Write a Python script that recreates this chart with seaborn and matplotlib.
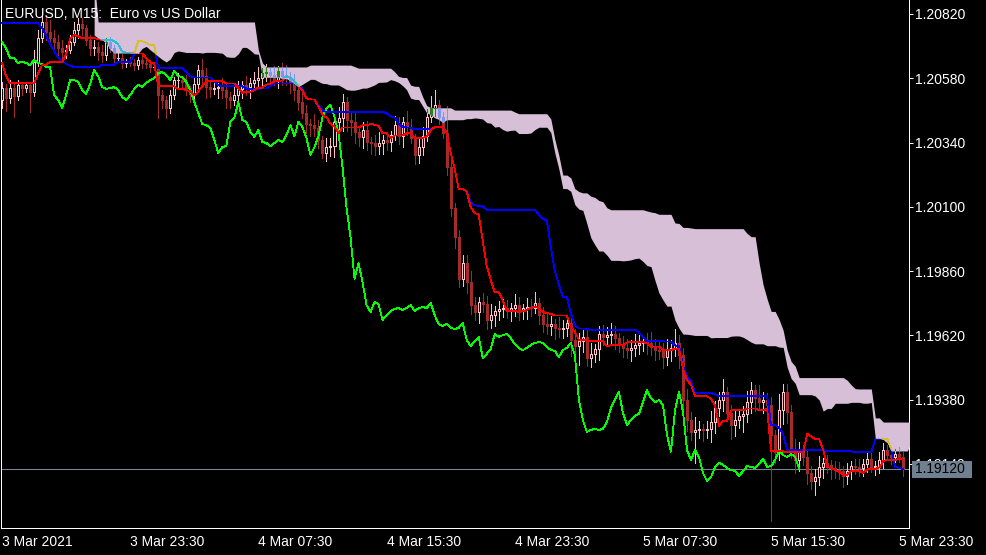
import numpy as np
import pandas as pd
import matplotlib
matplotlib.use("Agg")
import matplotlib.pyplot as plt
import matplotlib.colors as mcolors
import seaborn as sns
from matplotlib.path import Path
from matplotlib.patches import Rectangle
from matplotlib.transforms import blended_transform_factory

# EURUSD M15, first bar 3 Mar 2021 15:30
first_open = 1.20499
close = [
    1.20544, 1.20506, 1.20544, 1.20514, 1.20555, 1.20544, 1.20555, 1.20529, 1.20641, 1.20730,
    1.20790, 1.20753, 1.20730, 1.20715, 1.20693, 1.20678, 1.20685, 1.20715, 1.20760, 1.20782,
    1.20767, 1.20723, 1.20693, 1.20697, 1.20678, 1.20667,
    1.20715, 1.20693, 1.20655, 1.20655, 1.20637, 1.20641, 1.20637, 1.20629, 1.20648, 1.20637,
    1.20633, 1.20622, 1.20622, 1.20517, 1.20499, 1.20469, 1.20517, 1.20573, 1.20573, 1.20566,
    1.20536, 1.20521, 1.20558, 1.20611, 1.20588, 1.20547, 1.20540, 1.20543, 1.20547, 1.20536,
    1.20510, 1.20499, 1.20517, 1.20540, 1.20555, 1.20547, 1.20562, 1.20573, 1.20581, 1.20599,
    1.20603, 1.20592, 1.20573, 1.20607, 1.20588, 1.20585, 1.20566, 1.20536, 1.20491, 1.20450,
    1.20409, 1.20405, 1.20394, 1.20349, 1.20301, 1.20323, 1.20327, 1.20417, 1.20432, 1.20491,
    1.20424, 1.20417, 1.20379, 1.20361, 1.20387, 1.20342, 1.20338, 1.20327, 1.20338, 1.20349,
    1.20342, 1.20368, 1.20405, 1.20364, 1.20417, 1.20398, 1.20357, 1.20293, 1.20323, 1.20364,
    1.20435, 1.20469, 1.20480, 1.20435, 1.20376, 1.20249, 1.20096, 1.19987, 1.19830, 1.19890,
    1.19819, 1.19733, 1.19707, 1.19745, 1.19737, 1.19677, 1.19696, 1.19711, 1.19719, 1.19722,
    1.19715, 1.19722, 1.19733, 1.19711, 1.19722, 1.19726, 1.19722, 1.19741, 1.19696, 1.19663,
    1.19655, 1.19663, 1.19648, 1.19644, 1.19648, 1.19666, 1.19603, 1.19580, 1.19599, 1.19614,
    1.19536, 1.19551, 1.19569, 1.19625, 1.19614, 1.19621, 1.19625, 1.19610, 1.19588, 1.19573,
    1.19565, 1.19573, 1.19584, 1.19592, 1.19595, 1.19592, 1.19577, 1.19565, 1.19562, 1.19539,
    1.19565, 1.19573, 1.19592, 1.19547, 1.19379, 1.19304, 1.19259, 1.19267, 1.19271, 1.19267,
    1.19271, 1.19297, 1.19349, 1.19379, 1.19409, 1.19330, 1.19285, 1.19304, 1.19319, 1.19327,
    1.19371, 1.19416, 1.19386, 1.19371, 1.19379, 1.19360, 1.19248, 1.19185, 1.19341, 1.19409,
    1.19334, 1.19192, 1.19155, 1.19192, 1.19166, 1.19106, 1.19076, 1.19091, 1.19129, 1.19144,
    1.19136, 1.19125, 1.19117, 1.19114, 1.19095, 1.19114, 1.19132, 1.19129, 1.19125, 1.19140,
    1.19159, 1.19129, 1.19132, 1.19155, 1.19192, 1.19173, 1.19166, 1.19177, 1.19166, 1.19120,
]
# wick lengths beyond the body, in pips
wick_up = [
    2.2, 1.5, 3, 2, 2, 1, 1, 1, 4.5, 3, 3.7, 2.6, 4.5, 3, 2.6, 3, 2, 2.6, 3, 2.2,
    2.2, 1, 2, 2.6, 2, 2.6,
    1.5, 2, 1, 2, 1.5, 1, 2, 1.5, 1, 2,
    1, 1.5, 2, 1, 2, 1.5, 2, 1, 2.5, 1.5,
    2.5, 1.5, 3, 2, 4, 3, 2, 3, 1.5, 3.5,
    3, 2, 4, 3, 1.5, 3.5, 2, 3, 4, 2,
    3, 1.5, 3.5, 2, 3, 4, 2, 3, 1.5, 3.5,
    3, 2, 4, 3, 1.5, 3.5, 3, 2, 4, 3,
    2, 3, 4, 1.5, 3, 3.5, 2, 3, 4, 2,
    3, 1.5, 3.5, 3, 2, 4, 3, 1.5, 3, 3.5,
    3, 4.5, 5.6, 2, 2, 10, 3, 2, 2.5, 3,
    3, 4, 3, 2, 3.5, 3, 4, 2, 3, 3.5,
    3, 2, 4, 3, 1.5, 3.5, 3, 4, 2, 3,
    3.5, 3, 2, 4, 3, 2, 3, 4, 3, 3.5,
    3, 4, 2, 3, 3.5, 3, 4, 3, 2, 3,
    3.5, 3, 4, 3, 2, 3.5, 4, 3, 3.5, 3,
    4, 3, 5, 3, 2.5, 4, 3, 5, 3, 2,
    3, 4, 2.5, 3, 5, 2, 3, 4, 2.5, 3,
    4, 3, 2, 5, 3, 2.5, 3, 2, 6, 3,
    3, 2.5, 4, 3, 2, 3, 2.5, 3, 4, 2,
    3, 2, 2.5, 3, 2, 3, 2, 2.5, 3, 2,
    2.5, 3, 2, 3, 2.5, 2, 3, 2, 2.5, 2,
]
wick_dn = [
    3, 5, 2, 8, 1.5, 2.5, 1.5, 7.5, 1.5, 1.5, 1.5, 3, 2.6, 2.2, 2.6, 2.2, 2.2, 1, 1, 3,
    2.6, 2, 2.6, 2.6, 3, 2.6,
    2, 1.5, 2, 1, 2, 1.5, 1, 2, 1.5, 2,
    1.5, 2, 1, 8.6, 3, 3.7, 2, 1.5, 2.5, 2,
    2, 3, 3.5, 1.5, 3, 4, 3, 2, 3.5, 3,
    4, 3, 2, 3, 3.5, 3, 4, 2, 3, 3.5,
    3, 4, 2, 3, 3.5, 3, 4, 3.7, 3, 2,
    3.5, 4, 3, 3, 2, 3, 3.5, 4, 3, 5,
    4, 5, 4, 3.5, 4, 3, 4, 3.5, 3, 4,
    3, 3.5, 2, 3, 4, 3, 2, 3.5, 3, 3,
    2, 2, 3, 2.5, 2, 3, 3, 4, 3, 2.5,
    4, 3.5, 3, 4, 3, 3.5, 3, 4, 3.5, 3,
    3, 4, 3, 3.5, 3, 4, 3, 2, 3.5, 3,
    3, 3.5, 4, 3, 3.5, 3, 6, 4, 7, 4,
    3, 3.5, 3, 4, 3, 3.5, 3, 4, 3, 3.5,
    3, 4, 3, 3.5, 3, 4, 3, 3.5, 3, 4,
    3, 4, 3, 5, 3, 4, 3, 11.5, 3, 4,
    3, 5, 4, 3, 4, 3, 5, 4, 3, 6,
    3, 4, 5, 3, 4, 5, 32, 4, 3, 5,
    4, 3, 5, 4, 3, 4, 3, 5, 3, 4,
    3, 4, 3, 3, 4, 3, 3, 2.5, 3, 3,
    3, 2, 3, 2.5, 3, 2, 2.5, 3, 2, 2.5,
]

# indicator values that depend on bars left of the window
tenkan_head = [1.20637, 1.20588, 1.20562, 1.20562, 1.20562, 1.20562, 1.20562, 1.20562]
kijun_head = [1.20786] * 10 + [1.20767, 1.20741, 1.20708, 1.20682, 1.20659,
                               1.20641, 1.20633, 1.20626] + [1.20622] * 7
span_a_head = [np.nan] * 23 + [1.20741, 1.20730, 1.20723]
span_b_head = [np.nan] * 23 + [1.20950] + [1.20790] * 40 + [1.20685, 1.20637] + [1.20622] * 11

price_ticks = [1.19140, 1.19380, 1.19620, 1.19860, 1.20100, 1.20340, 1.20580, 1.20820]

PINK = "#FFC0CB"
BROWN = "#A52A2A"
THISTLE = "#D8BFD8"
RED = "#FF0000"
BLUE = "#0000FF"
LIME = "#00FF00"


def xor_thistle(c):
    a = (np.array(mcolors.to_rgb(c)) * 255).round().astype(int)
    t = (np.array(mcolors.to_rgb(THISTLE)) * 255).round().astype(int)
    return tuple((a ^ t) / 255.0)


close = np.array(close)
n = len(close)
open_ = np.r_[first_open, close[:-1]]
high = np.maximum(open_, close) + np.array(wick_up) * 1e-4
low = np.minimum(open_, close) - np.array(wick_dn) * 1e-4
times = pd.date_range("2021-03-03 15:30", periods=n, freq="15min")
df = pd.DataFrame({"open": open_, "high": high, "low": low, "close": close}, index=times)

# ichimoku 9/26/52
tenkan = ((df.high.rolling(9).max() + df.low.rolling(9).min()) / 2).to_numpy()
tenkan[:8] = tenkan_head
kijun = ((df.high.rolling(26).max() + df.low.rolling(26).min()) / 2).to_numpy()
kijun[:25] = kijun_head
mid52 = ((df.high.rolling(52).max() + df.low.rolling(52).min()) / 2).to_numpy()
span_a = np.r_[span_a_head, (tenkan + kijun) / 2]
span_b = np.r_[span_b_head, mid52[51:]]
chikou = close[26:]

sns.set_style("dark")
plt.rcParams["font.family"] = ["Liberation Sans", "DejaVu Sans"]

fig = plt.figure(figsize=(9.87, 5.55), dpi=100, facecolor="black")
ax = fig.add_axes([1 / 987, 27 / 555, 908 / 987, 528 / 555])
ax.set_facecolor("black")
ax.grid(False)

xs = np.arange(n)
bull = close >= open_
lw = 0.72

ax.axhline(close[-1], color="#778899", lw=lw, zorder=1.5)


def draw_candles(z, up_col, dn_col, up_face, clip=None):
    arts = []
    arts.append(ax.vlines(xs[bull], low[bull], high[bull], colors=up_col, lw=lw,
                          zorder=z, antialiased=False))
    arts.append(ax.vlines(xs[~bull], low[~bull], high[~bull], colors=dn_col, lw=lw,
                          zorder=z, antialiased=False))
    b1 = ax.bar(xs[bull], (close - open_)[bull], bottom=open_[bull], width=0.5,
                facecolor=up_face, edgecolor=up_col, linewidth=lw, zorder=z + 0.1,
                antialiased=False)
    b2 = ax.bar(xs[~bull], (close - open_)[~bull], bottom=open_[~bull], width=0.5,
                facecolor=dn_col, edgecolor=dn_col, linewidth=lw, zorder=z + 0.1,
                antialiased=False)
    arts += list(b1.patches) + list(b2.patches)
    if clip is not None:
        for a in arts:
            a.set_clip_path(clip, ax.transData)


def draw_lines(z, cols, clip=None):
    for y, xv, c in [(chikou, xs[:n - 26], cols[0]), (kijun, xs, cols[1]), (tenkan, xs, cols[2])]:
        sns.lineplot(x=xv, y=y, ax=ax, color=c, linewidth=0.6, estimator=None, sort=False,
                     zorder=z, antialiased=False)
        ln = ax.lines[-1]
        ln.set_linewidth(0.6)
        ln.set_solid_joinstyle("miter")
        if clip is not None:
            ln.set_clip_path(clip, ax.transData)


draw_candles(2, PINK, BROWN, "black")
draw_lines(3, [LIME, BLUE, RED])

xc = np.arange(len(span_a))
m = xc <= n + 2
cloud = ax.fill_between(xc[m], span_a[m], span_b[m], color=THISTLE, lw=0, zorder=4,
                        antialiased=False)
clip = Path.make_compound_path(*cloud.get_paths())

# MT5 draws the cloud in xor mode: marks under it change colour
draw_candles(5, xor_thistle(PINK), xor_thistle(BROWN), "none", clip)
draw_lines(6, [xor_thistle(LIME), xor_thistle(BLUE), xor_thistle(RED)], clip)

ax.set_xlim(-0.25, -0.25 + 908 / 4.006)
ax.set_ylim(1.18901, 1.20872)

for s in ["left", "bottom", "right"]:
    ax.spines[s].set_color("white")
    ax.spines[s].set_linewidth(lw)
ax.spines["top"].set_visible(False)

ax.yaxis.tick_right()
ax.set_yticks(price_ticks)
ax.set_yticklabels([f"{p:.5f}" for p in price_ticks])
ax.tick_params(axis="y", colors="white", length=3, width=lw, pad=1.5, labelsize=10)

tick_idx = [i for i, t in enumerate(times) if t.minute == 30 and t.hour in (7, 15, 23)]
tick_lab = [f"{times[i].day} {times[i]:%b %H:%M}" for i in tick_idx]
tick_lab[0] = f"{times[0].day} {times[0]:%b %Y}"
ax.set_xticks(tick_idx)
ax.set_xticklabels(tick_lab)
ax.tick_params(axis="x", colors="white", length=3.5, width=lw, pad=1.5, labelsize=10)
for lab in ax.get_xticklabels():
    lab.set_ha("left")
ax.set_xlabel("")
ax.set_ylabel("")

fig.text(5 / 987, 1 - 18 / 555, "EURUSD, M15:  Euro vs US Dollar", color="white",
         fontsize=10, va="baseline")

# current price label
trans = blended_transform_factory(fig.transFigure, ax.transData)
px = (1.20872 - 1.18901) / 528
fig.add_artist(Rectangle((912 / 987, close[-1] - 8.5 * px), 60 / 987, 17 * px,
                         transform=trans, facecolor="#708090", edgecolor="none", zorder=10))
fig.text(915 / 987, close[-1], f"{close[-1]:.5f}", transform=trans, color="black",
         fontsize=10, va="center", zorder=11)

fig.savefig("out.png", dpi=100, facecolor="black")
